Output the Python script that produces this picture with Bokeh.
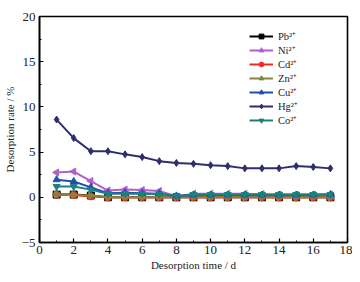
from bokeh.plotting import figure
from bokeh.models import Legend, LegendItem, FixedTicker, ColumnDataSource
from bokeh.embed import file_html
from bokeh.resources import INLINE

days = list(range(1, 18))
pb = [0.3, 0.3, 0.2, 0.0, 0.0, 0.0, 0.0, 0.0, 0.0, 0.0, 0.0, 0.0, 0.0, 0.0, 0.0, 0.0, 0.0]
ni = [2.75, 2.85, 1.8, 0.75, 0.85, 0.8, 0.7, 0.1, 0.4, 0.4, 0.4, 0.4, 0.35, 0.3, 0.3, 0.3, 0.3]
cd = [0.3, 0.25, 0.1, 0.0, 0.0, 0.0, 0.0, 0.0, 0.0, 0.0, 0.0, 0.0, 0.0, 0.0, 0.0, 0.0, 0.0]
zn = [0.3, 0.25, 0.2, 0.0, 0.0, 0.0, 0.0, 0.0, 0.0, 0.0, 0.0, 0.0, 0.0, 0.0, 0.0, 0.0, 0.0]
cu = [1.95, 1.75, 1.1, 0.45, 0.5, 0.45, 0.4, 0.15, 0.25, 0.25, 0.25, 0.25, 0.25, 0.25, 0.25, 0.25, 0.3]
hg = [8.6, 6.55, 5.1, 5.1, 4.75, 4.45, 4.0, 3.8, 3.7, 3.55, 3.45, 3.2, 3.2, 3.2, 3.45, 3.35, 3.2]
co = [1.2, 1.2, 0.85, 0.4, 0.4, 0.4, 0.35, 0.15, 0.3, 0.3, 0.3, 0.3, 0.3, 0.3, 0.3, 0.3, 0.3]

x_ticks = [0, 2, 4, 6, 8, 10, 12, 14, 16, 18]
y_ticks = [-5, 0, 5, 10, 15, 20]

series = [
    ("Pb²⁺", pb, "#000000", "square"),
    ("Ni²⁺", ni, "#b45fc8", "triangle"),
    ("Cd²⁺", cd, "#f02a2a", "circle"),
    ("Zn²⁺", zn, "#86863a", "triangle"),
    ("Cu²⁺", cu, "#1f4fb0", "triangle"),
    ("Hg²⁺", hg, "#2e2e6e", "diamond"),
    ("Co²⁺", co, "#1b8080", "inverted_triangle"),
]
angles = {"Ni²⁺": 90.0, "Zn²⁺": -90.0}

FONT = "Liberation Serif"

p = figure(frame_width=308, frame_height=226, x_range=(0, 18), y_range=(-5, 20),
           output_backend="svg", toolbar_location=None,
           min_border_left=39, min_border_right=5, min_border_top=16, min_border_bottom=38)
p.xgrid.visible = False
p.ygrid.visible = False
p.outline_line_color = "black"
p.outline_line_width = 1.6

for ax, ticks, minor in ((p.xaxis[0], x_ticks, [1, 3, 5, 7, 9, 11, 13, 15, 17]),
                         (p.yaxis[0], y_ticks, [-2.5, 2.5, 7.5, 12.5, 17.5])):
    ax.ticker = FixedTicker(ticks=ticks, minor_ticks=minor)
    ax.major_tick_in = 4
    ax.major_tick_out = 0
    ax.minor_tick_in = 2
    ax.minor_tick_out = 0
    ax.axis_line_width = 1.6
    ax.major_tick_line_width = 1.2
    ax.major_label_text_font = FONT
    ax.major_label_text_font_size = "13px"
    ax.major_label_text_color = "#222222"
    ax.axis_label_text_font = FONT
    ax.axis_label_text_font_size = "11px"
    ax.axis_label_text_font_style = "normal"
    ax.axis_label_text_color = "#222222"

p.xaxis[0].axis_label = "Desorption time / d"
p.yaxis[0].axis_label = "Desorption rate / %"
p.xaxis[0].axis_label_standoff = 2
p.yaxis[0].axis_label_standoff = 3
p.xaxis[0].major_label_standoff = 3
p.yaxis[0].major_label_standoff = 4

items = []
for name, vals, color, marker in series:
    src = ColumnDataSource(dict(x=days, y=vals))
    r1 = p.line("x", "y", source=src, line_color=color, line_width=2)
    r2 = p.scatter("x", "y", source=src, marker=marker, size=7,
                   angle=angles.get(name, 0.0), angle_units="deg",
                   fill_color=color, line_color=color)
    items.append(LegendItem(label=name, renderers=[r1, r2]))

legend = Legend(items=items, location=(210, 115))
legend.border_line_color = None
legend.background_fill_alpha = 0
legend.padding = 0
legend.margin = 0
legend.spacing = 0
legend.glyph_width = 24
legend.glyph_height = 12
legend.label_height = 12
legend.label_standoff = 5
legend.label_text_font = FONT
legend.label_text_font_size = "10.5px"
legend.label_text_line_height = 1.0
legend.label_text_color = "#222222"
p.add_layout(legend)

open("out.html", "w").write(file_html(p, INLINE))
